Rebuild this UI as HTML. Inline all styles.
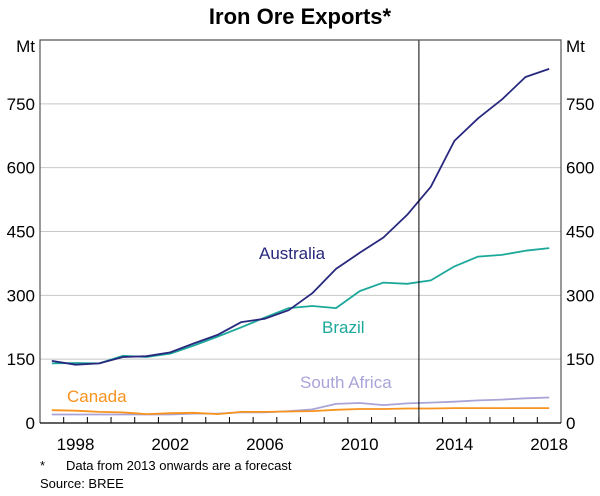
<!DOCTYPE html>
<html><head><meta charset="utf-8"><style>
body{margin:0;background:#fff;}
svg text{font-family:"Liberation Sans",Arial,sans-serif;}
</style></head><body>
<svg id="chart" width="600" height="491" xmlns="http://www.w3.org/2000/svg">
<text x="300" y="24" text-anchor="middle" font-size="22" font-weight="bold" fill="#000">Iron Ore Exports*</text>
<g id="grid"></g>
<g id="series"></g>
<g id="axes"></g>
<text x="40" y="470" font-size="13" fill="#000">*</text>
<text x="66" y="470" font-size="13" fill="#000">Data from 2013 onwards are a forecast</text>
<text x="40" y="488" font-size="13" fill="#000">Source: BREE</text>
</svg>
<script>
const years=[1997,1998,1999,2000,2001,2002,2003,2004,2005,2006,2007,2008,2009,2010,2011,2012,2013,2014,2015,2016,2017,2018];
const australia=[146,137,140,155,157,166,187,207,237,245,265,305,362,400,436,489,555,663,716,760,813,832];
const brazil=[140,141,140,158,155,163,182,203,225,248,270,275,270,310,330,327,335,368,391,395,405,411];
const southAfrica=[20,20,20,20,20,20,22,22,25,25,28,32,45,47,42,46,48,50,53,55,58,60];
const canada=[30,29,26,25,21,23,24,21,26,26,27,28,31,33,33,34,34,35,35,35,35,35];
const yTicks=[0,150,300,450,600,750];
const xLabels=[1998,2002,2006,2010,2014,2018];
const forecastStart=2013;
const NS="http://www.w3.org/2000/svg";
const L=40,R=561,T=40,B=423,YMAX=900,Y0=1997,NY=22;
const xw=(R-L)/NY;
function xEdge(y){return L+(y-Y0)*xw;}
function xMid(y){return xEdge(y)+xw/2;}
function yS(v){return B-(v/YMAX)*(B-T);}
function mk(tag,attrs,parent){const e=document.createElementNS(NS,tag);for(const k in attrs)e.setAttribute(k,attrs[k]);parent.appendChild(e);return e;}
const grid=document.getElementById('grid'),axes=document.getElementById('axes'),ser=document.getElementById('series');
yTicks.forEach(v=>{
 if(v>0){const g=mk('line',{x1:L,x2:R,y1:yS(v),y2:yS(v),stroke:'#c8c8c8','stroke-width':1},grid);
 
 }
 const t1=mk('text',{x:L-5,y:yS(v)+6,'text-anchor':'end','font-size':17,fill:'#000'},axes);t1.textContent=v;
 
 
 const t2=mk('text',{x:R+5,y:yS(v)+6,'text-anchor':'start','font-size':17,fill:'#000'},axes);t2.textContent=v;
 
 
});
[['Mt',L-5,'end'],['Mt',R+5,'start']].forEach((m,i)=>{const t=mk('text',{x:m[1],y:52,'text-anchor':m[2],'font-size':17,fill:'#000'},axes);t.textContent=m[0];
 
 });
const vl=mk('line',{x1:xEdge(forecastStart),x2:xEdge(forecastStart),y1:T,y2:B,stroke:'#000','stroke-width':1},axes);


const frame=mk('path',{d:`M${L},${B}V${T}H${R}V${B}`,fill:'none',stroke:'#555','stroke-width':1.2},axes);


const xa=mk('line',{x1:L,x2:R,y1:B,y2:B,stroke:'#000','stroke-width':1.2},axes);


for(let i=1;i<NY;i++){const tk=mk('line',{x1:xEdge(Y0+i),x2:xEdge(Y0+i),y1:B,y2:B-6,stroke:'#000'},axes);
 
 }
xLabels.forEach(y=>{const t=mk('text',{x:xMid(y),y:B+27,'text-anchor':'middle','font-size':17,fill:'#000'},axes);t.textContent=y;
 
 });
function line(data,color,name){const d=data.map((v,i)=>(i?'L':'M')+xMid(years[i]).toFixed(1)+','+yS(v).toFixed(1)).join('');
 const p=mk('path',{d:d,fill:'none',stroke:color,'stroke-width':1.8,'stroke-linejoin':'round'},ser);
 
 }
line(southAfrica,'#a9a4d8','south-africa-line');
line(canada,'#f7931e','canada-line');
line(brazil,'#1ca89a','brazil-line');
line(australia,'#28287e','australia-line');
[['Australia',259,259,'#28287e','label-australia'],['Brazil',322,333,'#1ca89a','label-brazil'],['South Africa',300,388,'#a9a4d8','label-south-africa'],['Canada',67,402,'#f7931e','label-canada']].forEach(a=>{
 const t=mk('text',{x:a[1],y:a[2],'font-size':17,fill:a[3]},ser);t.textContent=a[0];
 
 });
</script>
</body></html>
